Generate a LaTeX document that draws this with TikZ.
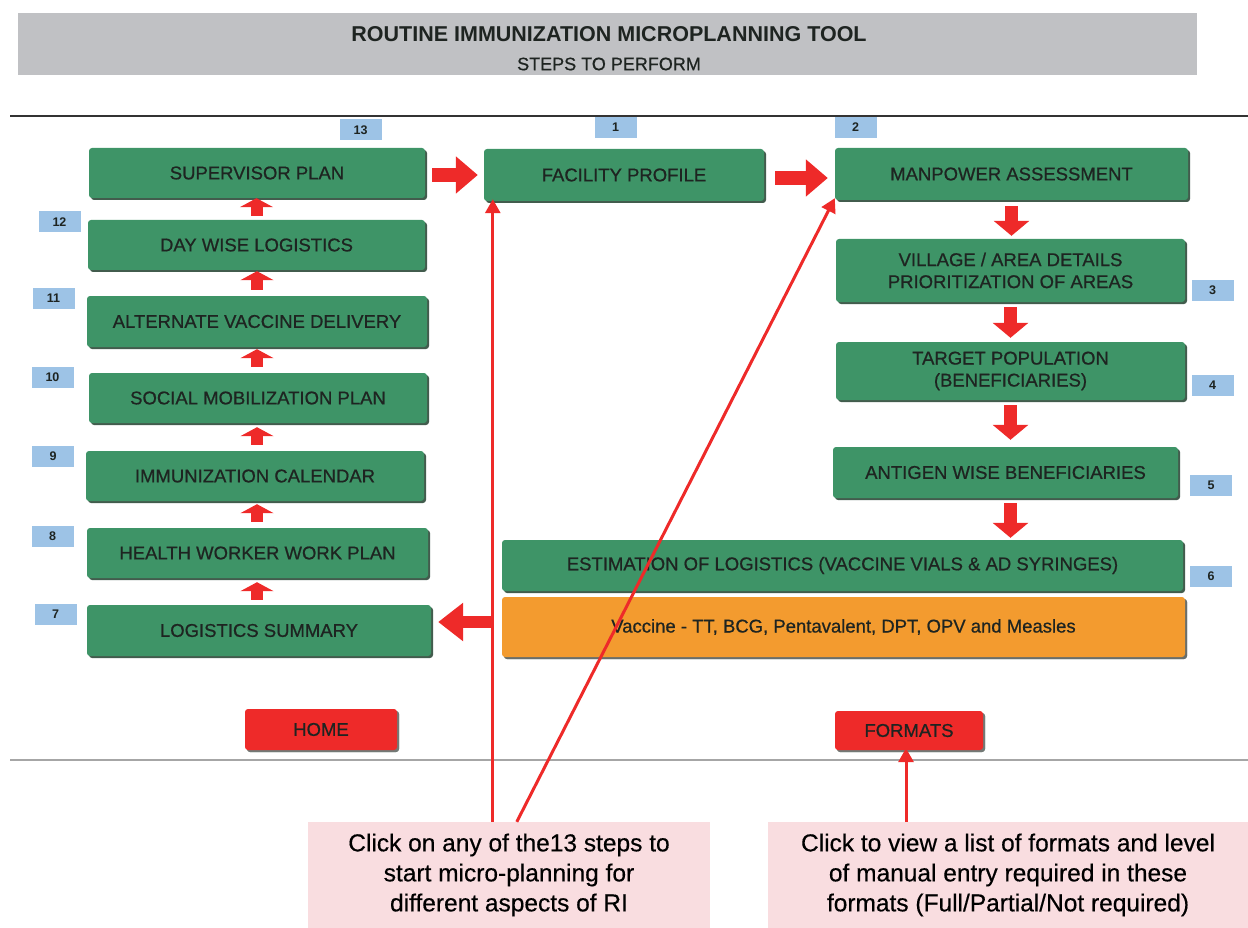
\documentclass[tikz,border=0pt]{standalone}
\usepackage{fontspec}
\setmainfont{Liberation Sans}
\newfontfamily\medfont[FakeBold=0.7]{Liberation Sans}
\newfontfamily\notefont[FakeBold=0.4]{Liberation Sans}
\usetikzlibrary{arrows.meta,shadows,calc}
\definecolor{boxgreen}{HTML}{3E9467}
\definecolor{boxshadow}{HTML}{2E4A3A}
\definecolor{txtdark}{HTML}{1E2421}
\definecolor{numblue}{HTML}{9DC3E6}
\definecolor{arrred}{HTML}{EE2A29}
\definecolor{vacorange}{HTML}{F39B2F}
\definecolor{notepink}{HTML}{F9DDE0}
\definecolor{headgray}{HTML}{C0C1C4}
\begin{document}
\begin{tikzpicture}[x=1pt,y=-1pt,
  stepbox/.style={fill=boxgreen, rounded corners=3pt, inner sep=0pt, text=txtdark, align=center,
    font=\medfont\fontsize{18.5}{22}\selectfont,
    drop shadow={shadow xshift=2pt, shadow yshift=-2pt, fill=boxshadow, opacity=0.9}},
  orangebox/.style={stepbox, fill=vacorange, drop shadow={shadow xshift=2pt, shadow yshift=-2pt, fill=black!55, opacity=0.8}},
  redbutton/.style={stepbox, fill=arrred, drop shadow={shadow xshift=2pt, shadow yshift=-2pt, fill=black!50, opacity=0.8}},
  numbox/.style={fill=numblue, inner sep=0pt, minimum width=42pt, minimum height=21pt, text=txtdark,
    font=\fontsize{12.5}{14}\selectfont\bfseries},
  notebox/.style={fill=notepink, inner sep=0pt, align=center, text=black,
    font=\notefont\fontsize{24.5}{30}\selectfont},
  harrow/.style={draw=arrred, line width=14pt, -{Triangle[length=22pt,width=36pt]}},
  varrow/.style={draw=arrred, line width=13pt, -{Triangle[length=15pt,width=35pt]}},
  uparrow/.style={draw=arrred, line width=12pt, -{Triangle[length=9pt,width=33pt]}},
  thinarrow/.style={draw=arrred, line width=3pt, -{Triangle[length=14pt,width=15pt]}}
]
\useasboundingbox (0,0) rectangle (1248,928);

% header
\node[fill=headgray, minimum width=1179pt, minimum height=62pt, inner sep=0pt] (head) at (607.5,44) {};
\node[text=txtdark, font=\fontsize{21.5}{24}\selectfont\bfseries, inner sep=0pt] (title) at (609,34) {ROUTINE IMMUNIZATION MICROPLANNING TOOL};
\node[text=txtdark, font=\medfont\fontsize{18}{20}\selectfont, inner sep=0pt] (subtitle) at (609,64) {STEPS TO PERFORM};

% rules
\draw[line width=2pt, black!80] (10,116) -- (1248,116);
\draw[line width=1.5pt, black!35] (10,760) -- (1248,760);

% left column
\node[stepbox, minimum width=336pt, minimum height=50pt] (sup) at (257,173) {SUPERVISOR PLAN};
\node[stepbox, minimum width=337pt, minimum height=50pt] (day) at (256.5,245) {DAY WISE LOGISTICS};
\node[stepbox, minimum width=340pt, minimum height=51pt] (alt) at (257,321.5) {ALTERNATE VACCINE DELIVERY};
\node[stepbox, minimum width=338pt, minimum height=50pt] (soc) at (258,398) {SOCIAL MOBILIZATION PLAN};
\node[stepbox, minimum width=338pt, minimum height=50pt] (imm) at (255,476) {IMMUNIZATION CALENDAR};
\node[stepbox, minimum width=341pt, minimum height=50pt] (hw) at (257.5,553) {HEALTH WORKER WORK PLAN};
\node[stepbox, minimum width=344pt, minimum height=51pt] (ls) at (259,630.5) {LOGISTICS SUMMARY};

% centre / right column
\node[stepbox, minimum width=280pt, minimum height=52pt] (fac) at (624,175) {FACILITY PROFILE};
\node[stepbox, minimum width=353pt, minimum height=52pt] (man) at (1011.5,174) {MANPOWER ASSESSMENT};
\node[stepbox, minimum width=349pt, minimum height=63pt] (vil) at (1010.5,270.5) {VILLAGE / AREA DETAILS\\PRIORITIZATION OF AREAS};
\node[stepbox, minimum width=349pt, minimum height=58pt] (tar) at (1010.5,371) {TARGET POPULATION\\(BENEFICIARIES)};
\node[stepbox, minimum width=345pt, minimum height=51pt] (ant) at (1005.5,472.5) {ANTIGEN WISE BENEFICIARIES};
\node[stepbox, minimum width=681pt, minimum height=51pt] (est) at (842.5,565.5) {ESTIMATION OF LOGISTICS (VACCINE VIALS \& AD SYRINGES)};
\node[orangebox, minimum width=683pt, minimum height=60pt] (vac) at (843.5,627) {Vaccine - TT, BCG, Pentavalent, DPT, OPV and Measles};

% buttons
\node[redbutton, minimum width=152pt, minimum height=41pt] (home) at (321,729.5) {HOME};
\node[redbutton, minimum width=148pt, minimum height=39pt] (formats) at (909,730.5) {FORMATS};

% step numbers
\node[numbox] (n13) at (360.5,130) {13};
\node[numbox] (n12) at (59.5,222) {12};
\node[numbox] (n11) at (53.5,298) {11};
\node[numbox] (n10) at (52.5,377.5) {10};
\node[numbox] (n9) at (53,456.5) {9};
\node[numbox] (n8) at (52.5,536.5) {8};
\node[numbox] (n7) at (55.5,614) {7};
\node[numbox] (n1) at (615.5,127.5) {1};
\node[numbox] (n2) at (855.5,127.5) {2};
\node[numbox] (n3) at (1212.5,290.5) {3};
\node[numbox] (n4) at (1212.5,385.5) {4};
\node[numbox] (n5) at (1211,485) {5};
\node[numbox] (n6) at (1211,576.5) {6};

% notes
\node[notebox, minimum width=402pt, minimum height=106pt] (noteL) at (509,875) {Click on any of the13 steps to\\start micro-planning for\\different aspects of RI};
\node[notebox, minimum width=480pt, minimum height=106pt] (noteR) at (1008,875) {Click to view a list of formats and level\\of manual entry required in these\\formats (Full/Partial/Not required)};

% block arrows
\draw[harrow, shorten <=7pt, shorten >=6pt] ([yshift=-2pt]sup.east) -- ([yshift=-2pt]sup.east -| fac.west);
\draw[harrow, shorten <=11pt, shorten >=7pt] ([yshift=-3pt]fac.east) -- ([yshift=-3pt]fac.east -| man.west);
\draw[varrow, shorten <=6pt, shorten >=3pt] (man.south) -- (man.south |- vil.north);
\draw[varrow, shorten <=5pt, shorten >=4pt] (vil.south) -- (vil.south |- tar.north);
\draw[varrow, shorten <=5pt, shorten >=7pt] (tar.south) -- (tar.south |- ant.north);
\draw[varrow, shorten <=5pt, shorten >=2pt] (ant.south -| tar.south) -- (tar.south |- est.north);
\draw[uparrow, shorten <=4pt, shorten >=0pt] (day.north) -- (day.north |- sup.south);
\draw[uparrow, shorten <=6pt, shorten >=1pt] (alt.north) -- (alt.north |- day.south);
\draw[uparrow, shorten <=6pt, shorten >=2pt] (soc.north -| alt.north) -- (alt.north |- alt.south);
\draw[uparrow, shorten <=6pt, shorten >=4pt] (imm.north -| alt.north) -- (alt.north |- soc.south);
\draw[uparrow, shorten <=6pt, shorten >=3pt] (hw.north -| alt.north) -- (alt.north |- imm.south);
\draw[uparrow, shorten <=5pt, shorten >=4pt] (ls.north -| alt.north) -- (alt.north |- hw.south);
\draw[harrow, line width=12pt, -{Triangle[length=25pt,width=37pt]}, shorten <=11pt, shorten >=7pt] ([yshift=5pt]vac.west) -- ([yshift=5pt]vac.west -| ls.east);

% thin pointer arrows
\draw[thinarrow] ([xshift=9pt]fac.south west |- noteL.north) -- ([xshift=9pt,yshift=2pt]fac.south west);
\draw[thinarrow] ([xshift=209pt]noteL.north west) -- ([yshift=2pt]man.south west);
\draw[thinarrow] ([xshift=-3pt]formats.south |- noteR.north) -- ([xshift=-3pt,yshift=2pt]formats.south);
\end{tikzpicture}
\end{document}
